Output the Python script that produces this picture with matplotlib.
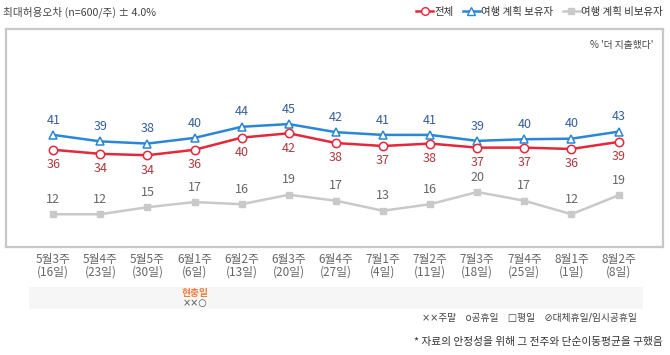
import matplotlib
matplotlib.use("Agg")
import matplotlib.pyplot as plt
from matplotlib.lines import Line2D
from matplotlib.patches import Rectangle

plt.rcParams['font.family'] = ['Noto Sans CJK KR', 'DejaVu Sans']

weeks = ["5월3주\n(16일)", "5월4주\n(23일)", "5월5주\n(30일)", "6월1주\n(6일)", "6월2주\n(13일)",
         "6월3주\n(20일)", "6월4주\n(27일)", "7월1주\n(4일)", "7월2주\n(11일)", "7월3주\n(18일)",
         "7월4주\n(25일)", "8월1주\n(1일)", "8월2주\n(8일)"]
total = [35.9, 34.4, 33.9, 35.9, 40.4, 42.0, 38.4, 37.3, 38.2, 36.7, 36.7, 36.2, 38.8]
planners = [41.4, 39.0, 38.2, 40.3, 44.4, 45.4, 42.4, 41.4, 41.4, 39.2, 39.8, 40.0, 42.6]
non_planners = [12.1, 12.1, 14.7, 16.6, 15.8, 19.3, 17.1, 13.4, 15.8, 20.3, 17.1, 12.1, 19.1]
holiday_week = 3
holiday_name = "현충일"
holiday_days = "××○"

W, H = 670, 355
RED, BLUE, GRAY = "#e3283c", "#2a86d8", "#c9c9c9"
SYM = ['DejaVu Sans', 'Noto Sans CJK KR']   # small symbols first, hangul falls through


def fx(x):
    return x / W


def fy(y):
    return 1 - y / H


fig = plt.figure(figsize=(6.7, 3.55), dpi=100)
ax = fig.add_axes([fx(5.7), fy(247), fx(663.3) - fx(5.7), fy(29.3) - fy(247)])
xs = list(range(len(weeks)))

ax.plot(xs, non_planners, color=GRAY, lw=1.8, marker="s", ms=4.5, mfc=GRAY, mec=GRAY, zorder=2)
ax.plot(xs, planners, color=BLUE, lw=1.8, marker="^", ms=6, mfc="white", mec=BLUE, mew=1.1, zorder=3)
ax.plot(xs, total, color=RED, lw=1.8, marker="o", ms=6, mfc="white", mec=RED, mew=1.1, zorder=3)

for i in xs:
    ax.annotate(f"{planners[i]:.0f}", (i, planners[i]), xytext=(0, 6), textcoords="offset points",
                ha="center", va="bottom", fontsize=9, color="#34609a")
    ax.annotate(f"{total[i]:.0f}", (i, total[i]), xytext=(0, -6), textcoords="offset points",
                ha="center", va="top", fontsize=9, color="#ad3a3d")
    ax.annotate(f"{non_planners[i]:.0f}", (i, non_planners[i]), xytext=(0, 6), textcoords="offset points",
                ha="center", va="bottom", fontsize=9, color="#666666")

ax.set_xlim(-1.01, 12.95)
ax.set_ylim(0, 80.4)
ax.set_yticks([])
ax.set_xticks(xs)
ax.set_xticklabels(weeks, fontsize=8.5, color="#666666", linespacing=1.0)
ax.tick_params(axis="x", length=0, pad=4)
for s in ax.spines.values():
    s.set_color("#c8c8c8")
    s.set_linewidth(1.6)

ax.text(0.985, 0.93, "% '더 지출했다'", transform=ax.transAxes, ha="right", va="center",
        fontsize=7, color="#444444")

fig.text(fx(3), fy(12), "최대허용오차 (n=600/주) ± 4.0%", ha="left", va="center", fontsize=7.7, color="#444444")

handles = [
    Line2D([], [], color=RED, lw=1.8, marker="o", ms=5.5, mfc="white", mec=RED),
    Line2D([], [], color=BLUE, lw=1.8, marker="^", ms=5.5, mfc="white", mec=BLUE),
    Line2D([], [], color=GRAY, lw=1.8, marker="s", ms=4, mfc=GRAY, mec=GRAY),
]
fig.legend(handles, ["전체", "여행 계획 보유자", "여행 계획 비보유자"], loc="center right",
           bbox_to_anchor=(fx(667), fy(12)), ncol=3, frameon=False, fontsize=7.5,
           handlelength=1.6, handletextpad=0.15, columnspacing=0.9, borderaxespad=0,
           labelcolor="#333333")

fig.patches.append(Rectangle((fx(29), fy(309)), fx(642.7) - fx(29), fy(287) - fy(309),
                             transform=fig.transFigure, facecolor="#f6f6f6", edgecolor="none", zorder=0))
hx = ax.transData.transform((holiday_week, 0))[0] / fig.dpi / fig.get_figwidth()
fig.text(hx, fy(293), holiday_name, ha="center", va="center", fontsize=7, color="#f47c3c", fontweight="bold")
fig.text(hx, fy(303), holiday_days, ha="center", va="center", fontsize=7, color="#555555", family=SYM)

fig.text(fx(637), fy(318), "××주말   o공휴일   □평일   ⊘대체휴일/임시공휴일", ha="right", va="center",
         fontsize=7, color="#444444", family=SYM)
fig.text(fx(663), fy(342), "* 자료의 안정성을 위해 그 전주와 단순이동평균을 구했음", ha="right", va="center",
         fontsize=7.7, color="#333333")

fig.savefig("out.png", dpi=100)
